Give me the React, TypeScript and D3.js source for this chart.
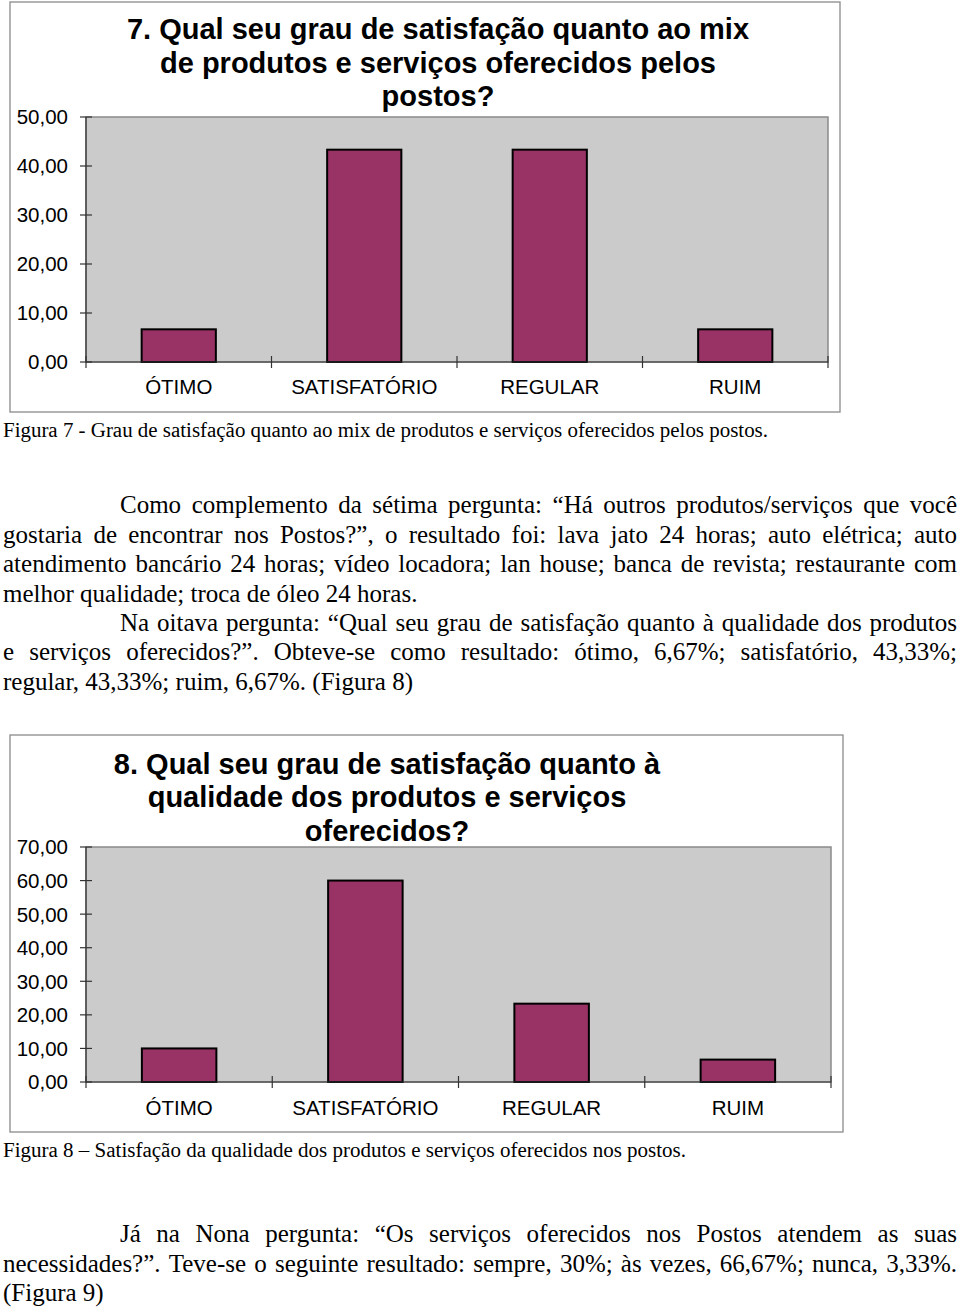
import React, { useEffect, useRef } from "react";
import * as d3 from "d3";

// dados dos gráficos
const categories = ["ÓTIMO", "SATISFATÓRIO", "REGULAR", "RUIM"];
const mixValues = [6.67, 43.33, 43.33, 6.67];
const qualityValues = [10.0, 60.0, 23.33, 6.67];
const mixTicks = [0, 10, 20, 30, 40, 50];
const qualityTicks = [0, 10, 20, 30, 40, 50, 60, 70];

const mixTitle = [
  "7. Qual seu grau de satisfação quanto ao mix",
  "de produtos e serviços oferecidos pelos",
  "postos?",
];
const qualityTitle = [
  "8. Qual seu grau de satisfação quanto à",
  "qualidade dos produtos e serviços",
  "oferecidos?",
];

const caption7 =
  "Figura 7 - Grau de satisfação quanto ao mix de produtos e serviços oferecidos pelos postos.";
const caption8 =
  "Figura 8 – Satisfação da qualidade dos produtos e serviços oferecidos nos postos.";

const paragraph7 = [
  "Como complemento da sétima pergunta: “Há outros produtos/serviços que você",
  "gostaria de encontrar nos Postos?”, o resultado foi: lava jato 24 horas; auto elétrica; auto",
  "atendimento bancário 24 horas; vídeo locadora; lan house; banca de revista; restaurante com",
  "melhor qualidade; troca de óleo 24 horas.",
  "Na oitava pergunta: “Qual seu grau de satisfação quanto à qualidade dos produtos",
  "e serviços oferecidos?”. Obteve-se como resultado: ótimo, 6,67%; satisfatório, 43,33%;",
  "regular, 43,33%; ruim, 6,67%. (Figura 8)",
];
const paragraph9 = [
  "Já na Nona pergunta: “Os serviços oferecidos nos Postos atendem as suas",
  "necessidades?”. Teve-se o seguinte resultado: sempre, 30%; às vezes, 66,67%; nunca, 3,33%.",
  "(Figura 9)",
];

const fmt = (v: number) => v.toFixed(2).replace(".", ",");
const SANS = "'Liberation Sans', Arial, sans-serif";
const SERIF = "'Liberation Serif', 'Times New Roman', serif";

interface ChartProps {
  box: { x: number; y: number; w: number; h: number };
  plot: { left: number; right: number; top: number; bottom: number };
  title: string[];
  titleX: number;
  titleY: number[];
  values: number[];
  ticks: number[];
  labelY: number;
}

const BarChart: React.FC<ChartProps> = ({
  box,
  plot,
  title,
  titleX,
  titleY,
  values,
  ticks,
  labelY,
}) => {
  const y = d3
    .scaleLinear()
    .domain([0, d3.max(ticks) as number])
    .range([plot.bottom, plot.top]);
  const x = d3
    .scaleBand<string>()
    .domain(categories)
    .range([plot.left, plot.right])
    .paddingInner(0.6)
    .paddingOuter(0.3);
  const step = x.step();
  const bounds = d3.range(categories.length + 1).map((i) => plot.left + i * step);

  return (
    <g>
      <rect
        x={box.x}
        y={box.y}
        width={box.w}
        height={box.h}
        fill="#fff"
        stroke="#8a8a8a"
        strokeWidth={1.3}
      />
      {title.map((t, i) => (
        <text
          key={i}
          x={titleX}
          y={titleY[i]}
          textAnchor="middle"
          fontFamily={SANS}
          fontWeight="bold"
          fontSize={29}
          fill="#000"
        >
          {t}
        </text>
      ))}
      <rect
        x={plot.left}
        y={plot.top}
        width={plot.right - plot.left}
        height={plot.bottom - plot.top}
        fill="#cbcbcb"
        stroke="#8a8a8a"
        strokeWidth={1.5}
      />
      {values.map((v, i) => (
        <rect
          key={categories[i]}
          x={x(categories[i])}
          y={y(v)}
          width={x.bandwidth()}
          height={y(0) - y(v)}
          fill="#993366"
          stroke="#000"
          strokeWidth={2}
        />
      ))}
      {/* eixo Y */}
      <line x1={plot.left} x2={plot.left} y1={plot.top} y2={plot.bottom} stroke="#333" strokeWidth={1.2} />
      {ticks.map((t) => (
        <g key={t}>
          <line x1={plot.left - 6} x2={plot.left + 6} y1={y(t)} y2={y(t)} stroke="#333" strokeWidth={1.2} />
          <text
            x={68}
            y={y(t)}
            dy="0.36em"
            textAnchor="end"
            fontFamily={SANS}
            fontSize={20.5}
            fill="#000"
          >
            {fmt(t)}
          </text>
        </g>
      ))}
      {/* eixo X */}
      <line x1={plot.left} x2={plot.right} y1={plot.bottom} y2={plot.bottom} stroke="#333" strokeWidth={1.2} />
      {bounds.map((bx, i) => (
        <line key={i} x1={bx} x2={bx} y1={plot.bottom - 6} y2={plot.bottom + 6} stroke="#333" strokeWidth={1.2} />
      ))}
      {categories.map((c) => (
        <text
          key={c}
          x={(x(c) as number) + x.bandwidth() / 2}
          y={labelY}
          textAnchor="middle"
          fontFamily={SANS}
          fontSize={20.5}
          fill="#000"
        >
          {c}
        </text>
      ))}
    </g>
  );
};

interface Line {
  text: string;
  x: number;
  y: number;
  justify: boolean;
}

const RIGHT = 957;
const BODY_SIZE = 25;

export default function App() {
  const textRef = useRef<SVGGElement>(null);

  const lines: Line[] = [
    ...paragraph7.map((t, i) => ({
      text: t,
      x: i === 0 || i === 4 ? 120 : 3,
      y: [513, 543, 572, 602, 631, 660, 690][i],
      justify: i !== 3 && i !== 6,
    })),
    ...paragraph9.map((t, i) => ({
      text: t,
      x: i === 0 ? 120 : 3,
      y: [1242, 1272, 1301][i],
      justify: i !== 2,
    })),
  ];

  useEffect(() => {
    const g = d3.select(textRef.current);
    g.selectAll("*").remove();
    lines.forEach((ln) => {
      if (!ln.justify) {
        g.append("text")
          .attr("x", ln.x)
          .attr("y", ln.y)
          .attr("font-family", SERIF)
          .attr("font-size", BODY_SIZE)
          .text(ln.text);
        return;
      }
      const words = ln.text.split(" ");
      const nodes = words.map((w) =>
        g
          .append("text")
          .attr("y", ln.y)
          .attr("font-family", SERIF)
          .attr("font-size", BODY_SIZE)
          .text(w)
      );
      const widths = nodes.map((n) => (n.node() as SVGTextElement).getComputedTextLength());
      const avail = RIGHT - ln.x;
      let total = d3.sum(widths);
      let scale = 1;
      const minGap = 4;
      if (total + minGap * (words.length - 1) > avail) {
        scale = (avail - minGap * (words.length - 1)) / total;
      }
      const gap = (avail - total * scale) / (words.length - 1);
      let cx = ln.x;
      nodes.forEach((n, i) => {
        n.attr("x", cx);
        if (scale < 1) {
          n.attr("textLength", widths[i] * scale).attr("lengthAdjust", "spacingAndGlyphs");
        }
        cx += widths[i] * scale + gap;
      });
    });
  }, []);

  return (
    <div style={{ position: "absolute", left: 0, top: 0 }}>
      <svg width={960} height={1308} style={{ display: "block", background: "#fff" }}>
        <BarChart
          box={{ x: 10, y: 2, w: 830, h: 410 }}
          plot={{ left: 86, right: 828, top: 117, bottom: 362 }}
          title={mixTitle}
          titleX={438}
          titleY={[39, 73, 106]}
          values={mixValues}
          ticks={mixTicks}
          labelY={394}
        />
        <text
          x={3}
          y={437}
          fontFamily={SERIF}
          fontSize={20}
          textLength={765}
          lengthAdjust="spacingAndGlyphs"
        >
          {caption7}
        </text>

        <BarChart
          box={{ x: 10, y: 735, w: 833, h: 397 }}
          plot={{ left: 86, right: 831, top: 847, bottom: 1082 }}
          title={qualityTitle}
          titleX={387}
          titleY={[774, 807, 841]}
          values={qualityValues}
          ticks={qualityTicks}
          labelY={1115}
        />
        <text
          x={3}
          y={1157}
          fontFamily={SERIF}
          fontSize={20}
          textLength={683}
          lengthAdjust="spacingAndGlyphs"
        >
          {caption8}
        </text>

        <g ref={textRef} />
      </svg>
    </div>
  );
}
